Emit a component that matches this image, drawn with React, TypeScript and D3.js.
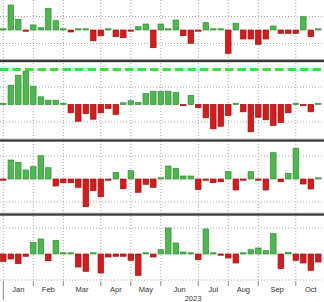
import React from "react";
import * as d3 from "d3";

// ---- data (weekly, Fridays 2023) ----
const weeks: Date[] = d3.timeFriday.range(new Date(2023, 0, 6), new Date(2023, 9, 28));
const monthLabels = ["Jan", "Feb", "Mar", "Apr", "May", "Jun", "Jul", "Aug", "Sep", "Oct"];
const yearLabel = "2023";

const series1 = [0.3, 25, 10.7, -0.3, 5, 2.3, 21.7, 9.3, 0.3, -2, 0.5, 0.5, -10.7, -5.7, 0.3, -6.7, -7.7, -0.5, 3.3, 6, -17.7, 6, 0.3, 10, -5.7, -13.3, -0.5, 7.3, 0.3, 0.3, -23.3, 6.7, -9, -9, -14.3, -9, 4, -3.3, -3.3, -3.3, 13.3, -6.7, 0.5];
const series2 = [0.3, 19.3, 29.3, 33.3, 18.3, 7.7, 4.3, 4.3, 0.5, -8.3, -16.7, -9, -14.7, -8.3, -4, -10, 1.7, 3.7, 2, 11, 13.3, 13, 13.3, 12, -0.3, 9, -3, -13.3, -24.3, -21.7, -11, 0.3, -7.3, -27.3, -12.7, -15.3, -21, -18, -8.3, 0.3, -0.5, -7.3, 0.3];
const series3 = [-0.3, 19, 16.7, 9, 12.3, 23.3, 11.3, -7, -3.7, -3.7, -8.3, -27.7, -11.7, -17.7, -0.3, 6.7, -9.7, 8.3, -13.3, -5.3, -8.3, 0.3, 13, 10.7, 3, 3, -10.3, -0.3, -3.7, -2.7, 7.3, -11, -0.3, 7.3, -0.3, -11, 26.3, -2.7, 5.7, 30.7, -5, -10, 0.3];
const series4 = [-7.3, -5, -9.7, -2.3, 11.7, 15, -6.7, 13.7, 0.3, 0.3, -13, -17.3, 1, -19, -3, -2.3, -2.3, -6.3, -21.3, 0.3, -3, 4.3, 26, 11, 2, 1, -5.7, 25, 0.3, -0.3, -4, -9, 1, 4.3, 6, 3.3, 20.3, -14.7, 1.7, -6.3, -9, -16.3, -8];
const panel2RefLevel = 35;

// ---- layout ----
const W = 324;
const H = 302;
const panels = [
  { values: series1, top: 0, bottom: 60, zero: 30, step: 13.5 },
  { values: series2, top: 62.5, bottom: 139.5, zero: 104.5, step: 17.5, ref: panel2RefLevel },
  { values: series3, top: 142, bottom: 213.5, zero: 179, step: 23 },
  { values: series4, top: 216, bottom: 281, zero: 254, step: 26 },
];
const separators = [60, 139.5, 213.5];

const GREEN = "#4db84d";
const GREEN_EDGE = "#2f8f2f";
const RED = "#d91a1a";
const RED_EDGE = "#a00c0c";
const GRID = "#a8a8a8";
const FONT = "'Liberation Sans', Arial, sans-serif";

export default function App() {
  const x = d3
    .scaleBand<number>()
    .domain(d3.range(weeks.length))
    .range([0.56, 321.06])
    .paddingInner(0.27)
    .paddingOuter(0);
  const bw = x.bandwidth();
  const step = x.step();
  const cx = (i: number) => (x(i) as number) + bw / 2;

  const monthStarts: number[] = [];
  weeks.forEach((d, i) => {
    if (i === 0 || d.getMonth() !== weeks[i - 1].getMonth()) monthStarts.push(i);
  });
  const monthEnds = monthStarts.map((s, k) =>
    k + 1 < monthStarts.length ? cx(monthStarts[k + 1]) : cx(weeks.length - 1) + step
  );

  return (
    <svg width={W} height={H} style={{ position: "absolute", left: 0, top: 0, background: "#fff" }}>
      {monthStarts.map((i) => (
        <line key={"vg" + i} x1={cx(i)} x2={cx(i)} y1={0} y2={281} stroke={GRID} strokeWidth={1} strokeDasharray="1 2" />
      ))}
      {panels.map((p, pi) => {
        const y = d3.scaleLinear().domain([-(p.bottom - p.zero), p.zero - p.top]).range([p.bottom, p.top]);
        const grids = [-p.step, p.step];
        return (
          <g key={"p" + pi}>
            {grids.map((g) => (
              <line key={"hg" + g} x1={0} x2={W} y1={y(g)} y2={y(g)} stroke={GRID} strokeWidth={1} strokeDasharray="1 2" />
            ))}
            {p.ref !== undefined && (
              <line x1={0} x2={W} y1={y(p.ref)} y2={y(p.ref)} stroke="#3ee03e" strokeWidth={3} strokeDasharray="8.5 4" />
            )}
            {p.values.map((v, i) => {
              const y0 = y(0);
              const y1 = y(v);
              const h = Math.max(Math.abs(y1 - y0), 1.2);
              const top = v >= 0 ? y0 - h : y0;
              return (
                <rect
                  key={i}
                  x={x(i)}
                  y={top}
                  width={bw}
                  height={h}
                  fill={v >= 0 ? GREEN : RED}
                  stroke={v >= 0 ? GREEN_EDGE : RED_EDGE}
                  strokeWidth={0.7}
                />
              );
            })}
          </g>
        );
      })}
      {separators.map((s) => (
        <g key={"s" + s}>
          <rect x={0} y={s - 0.8} width={W} height={0.8} fill="#9a9a9a" />
          <rect x={0} y={s} width={W} height={2.2} fill="#3a3a3a" />
        </g>
      ))}
      {monthStarts.map((i, k) => (
        <line key={"t" + i} x1={cx(i)} x2={cx(i)} y1={281} y2={k === 0 ? 300 : 286} stroke="#8a8a8a" strokeWidth={1} />
      ))}
      {monthStarts.map((i, k) => (
        <text
          key={"l" + i}
          x={(cx(i) + monthEnds[k]) / 2}
          y={291.5}
          fontSize={7.5}
          fontFamily={FONT}
          fill="#333"
          textAnchor="middle"
        >
          {monthLabels[k]}
        </text>
      ))}
      <text x={193} y={300.5} fontSize={7.5} fontFamily={FONT} fill="#333" textAnchor="middle">
        {yearLabel}
      </text>
    </svg>
  );
}
